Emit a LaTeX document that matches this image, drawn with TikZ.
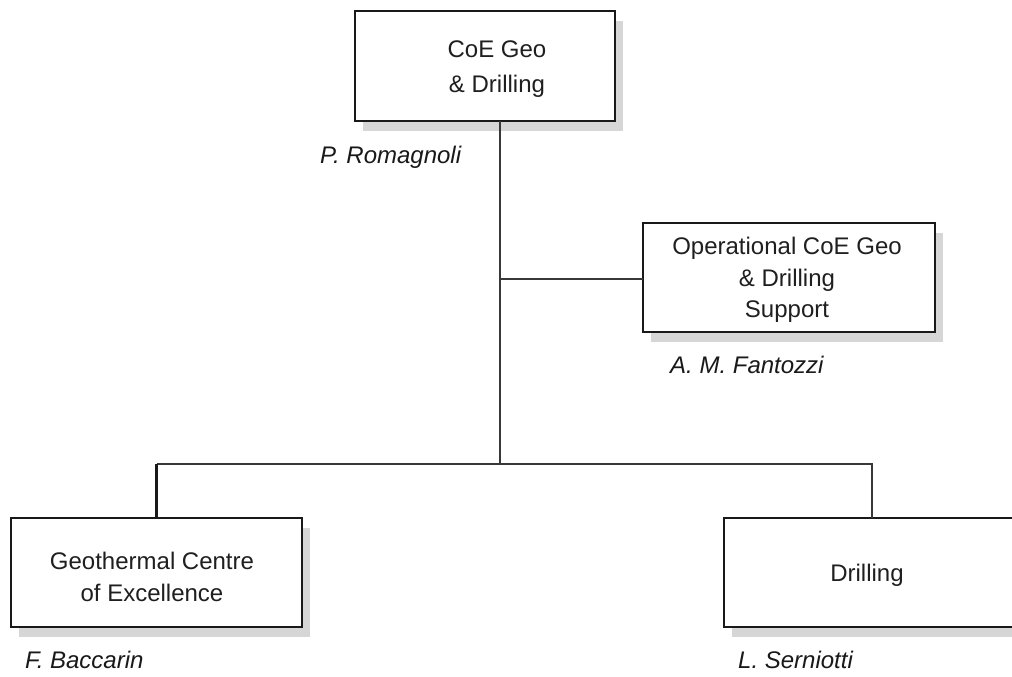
\documentclass[tikz,border=0pt]{standalone}
\usepackage{fontspec}
\setmainfont{Liberation Sans}
\usetikzlibrary{shadows}
\begin{document}
\begin{tikzpicture}[x=1pt,y=-1pt,
  orgbox/.style={draw=black!90,line width=2pt,fill=white,rectangle,inner sep=0pt,outer sep=0pt,
    general shadow={fill=black!16,shadow xshift=8pt,shadow yshift=-10pt}},
  boxtext/.style={align=center,text=black!88,inner sep=0pt},
  person/.style={anchor=west,inner sep=0pt,text=black!90,font=\fontsize{24}{28}\selectfont\itshape},
  link/.style={draw=black!78,line width=2pt}]
  \useasboundingbox (0,0) rectangle (1012,677);
  \clip (0,0) rectangle (1012,677);
  \fill[white] (0,0) rectangle (1012,677);

  % boxes
  \node[orgbox,minimum width=260pt,minimum height=110pt] (top) at (485,66) {};
  \node[orgbox,minimum width=292pt,minimum height=109pt] (mid) at (789,277.5) {};
  \node[orgbox,minimum width=291pt,minimum height=109pt] (lb) at (156.5,572.5) {};
  \node[orgbox,minimum width=296pt,minimum height=109pt] (rb) at (872,572.5) {};

  % box captions
  \node[boxtext,font=\fontsize{24}{35}\selectfont] (toptxt) at (497,69) {CoE Geo\\\& Drilling};
  \node[boxtext,font=\fontsize{24}{31.5}\selectfont] (midtxt) at (787,280) {Operational CoE Geo\\\& Drilling\\Support};
  \node[boxtext,font=\fontsize{24}{32}\selectfont] (lbtxt) at (152,577) {Geothermal Centre\\of Excellence};
  \node[boxtext,font=\fontsize{24}{30}\selectfont] (rbtxt) at (867,575) {Drilling};

  % names
  \node[person] (n1) at (320,157) {P. Romagnoli};
  \node[person] (n2) at (670,365) {A. M. Fantozzi};
  \node[person] (n3) at (25,660) {F. Baccarin};
  \node[person] (n4) at (738,660) {L. Serniotti};

  % connectors
  \coordinate (j1) at (500,279);
  \coordinate (j2) at (500,464);
  \draw[link] (top.south -| j1) -- (j2);
  \draw[link] (j1) -- (j1 -| mid.west);
  \draw[link] (lb.north |- j2) -- (rb.north |- j2) -- (rb.north);
  \draw[link,line width=3pt,draw=black!90] (lb.north |- j2) -- (lb.north);
\end{tikzpicture}
\end{document}
